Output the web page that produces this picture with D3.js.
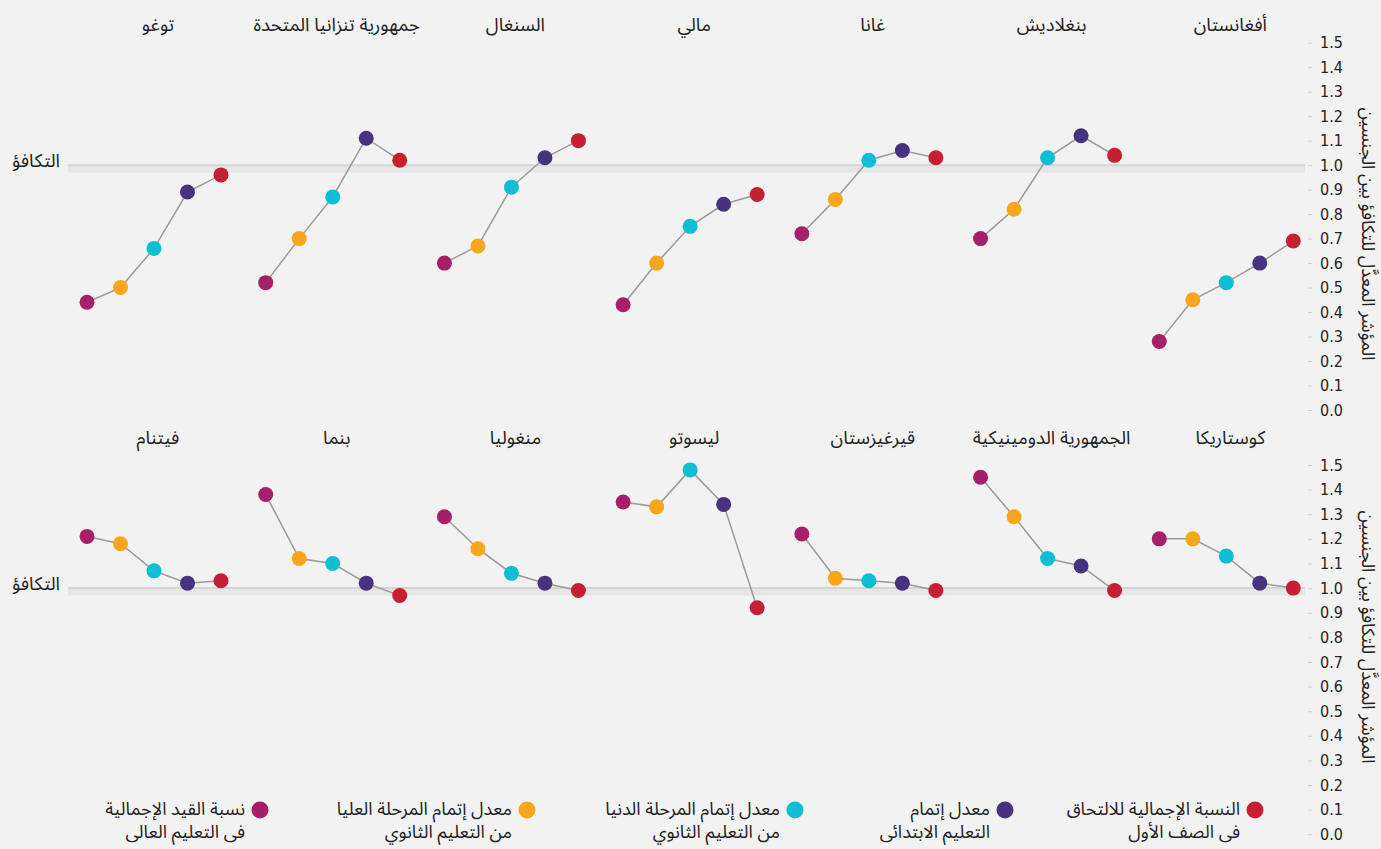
<!DOCTYPE html>
<html>
<head>
<meta charset="utf-8">
<script src="https://cdn.jsdelivr.net/npm/d3@7"></script>
<style>
  body { margin: 0; background: #f2f2f2; }
  svg { display: block; }
  .ttl { font-family: "Noto Sans Arabic", "DejaVu Sans", sans-serif; font-size: 18.5px; fill: #222; }
  .leg { font-family: "Noto Sans Arabic", "DejaVu Sans", sans-serif; font-size: 18px; fill: #222; }
  .tick text { font-family: "Liberation Sans Narrow", "DejaVu Sans Condensed", sans-serif; font-size: 16px; fill: #222; }
</style>
</head>
<body>
<div id="chart"></div>
<script>
// countries, right to left, top row then bottom row
const topCountries = ["أفغانستان", "بنغلاديش", "غانا", "مالي", "السنغال", "جمهورية تنزانيا المتحدة", "توغو"];
const bottomCountries = ["كوستاريكا", "الجمهورية الدومينيكية", "قيرغيزستان", "ليسوتو", "منغوليا", "بنما", "فيتنام"];

// indicators, right to left (as drawn inside each panel)
const indicators = ["gir", "primary", "lowerSec", "upperSec", "tertiary"];
const indicatorColors = ["#c51f34", "#47327f", "#0dbed4", "#f8a61c", "#a51f69"];
const legendLine1 = ["النسبة الإجمالية للالتحاق", "معدل إتمام", "معدل إتمام المرحلة الدنيا", "معدل إتمام المرحلة العليا", "نسبة القيد الإجمالية"];
const legendLine2 = ["فى الصف الأول", "التعليم الابتدائى", "من التعليم الثانوي", "من التعليم الثانوي", "فى التعليم العالى"];

// adjusted gender parity index, same order as the countries
const topGir      = [0.69, 1.04, 1.03, 0.88, 1.10, 1.02, 0.96];
const topPrimary  = [0.60, 1.12, 1.06, 0.84, 1.03, 1.11, 0.89];
const topLower    = [0.52, 1.03, 1.02, 0.75, 0.91, 0.87, 0.66];
const topUpper    = [0.45, 0.82, 0.86, 0.60, 0.67, 0.70, 0.50];
const topTertiary = [0.28, 0.70, 0.72, 0.43, 0.60, 0.52, 0.44];

const bottomGir      = [1.00, 0.99, 0.99, 0.92, 0.99, 0.97, 1.03];
const bottomPrimary  = [1.02, 1.09, 1.02, 1.34, 1.02, 1.02, 1.02];
const bottomLower    = [1.13, 1.12, 1.03, 1.48, 1.06, 1.10, 1.07];
const bottomUpper    = [1.20, 1.29, 1.04, 1.33, 1.16, 1.12, 1.18];
const bottomTertiary = [1.20, 1.45, 1.22, 1.35, 1.29, 1.38, 1.21];

const yTicks = [0, 0.1, 0.2, 0.3, 0.4, 0.5, 0.6, 0.7, 0.8, 0.9, 1.0, 1.1, 1.2, 1.3, 1.4, 1.5];
const axisTitle = "المؤشر المعدَّل للتكافؤ بين الجنسين";
const parityLabel = "التكافؤ";

const WIDTH = 1381, HEIGHT = 849;
const PLOT = { left: 54, right: 1305 };
const ROWS = [
    { countries: topCountries, series: [topGir, topPrimary, topLower, topUpper, topTertiary], y0: 410, y1: 42.7, titleY: 31, axisTitleY: 234 },
    { countries: bottomCountries, series: [bottomGir, bottomPrimary, bottomLower, bottomUpper, bottomTertiary], y0: 834.3, y1: 465, titleY: 444, axisTitleY: 637 }
];
const LEGEND_RIGHT = [1240, 990, 780, 512, 245];
const LEGEND_Y = 810;

const svg = d3.select("#chart").append("svg")
    .attr("width", WIDTH)
    .attr("height", HEIGHT);

svg.append("rect").attr("width", WIDTH).attr("height", HEIGHT).attr("fill", "#f2f2f2");

const xPanel = d3.scaleBand()
    .domain(d3.range(7))
    .range([PLOT.right, PLOT.left]);

// left to right inside a panel: tertiary ... gir
const xInner = d3.scalePoint()
    .domain(indicators.slice().reverse())
    .range([33, 167]);

const line = d3.line().x(d => d.x).y(d => d.y);

ROWS.forEach(row => {
    const y = d3.scaleLinear().domain([0, 1.5]).range([row.y0, row.y1]);
    const g = svg.append("g");

    // parity band and line
    g.append("rect")
        .attr("x", 68)
        .attr("width", PLOT.right - 68)
        .attr("y", y(1.0))
        .attr("height", y(0.97) - y(1.0))
        .attr("fill", "#e6e6e6");
    g.append("line")
        .attr("x1", 68).attr("x2", PLOT.right)
        .attr("y1", y(1.0)).attr("y2", y(1.0))
        .attr("stroke", "#d5d5d5")
        .attr("stroke-width", 2);
    g.append("text")
        .attr("class", "ttl")
        .attr("x", 60)
        .attr("y", y(1.0) + 2)
        .attr("text-anchor", "end")
        .text(parityLabel);

    // y axis on the right
    const axis = g.append("g")
        .attr("transform", "translate(" + (PLOT.right + 3) + ",0)")
        .call(d3.axisRight(y).tickValues(yTicks).tickFormat(d3.format(".1f")).tickSize(4).tickPadding(8));
    axis.select(".domain").remove();
    axis.selectAll(".tick line").attr("stroke", "#cfcfcf");

    g.append("text")
        .attr("class", "ttl")
        .attr("transform", "translate(1362," + row.axisTitleY + ") rotate(90)")
        .attr("text-anchor", "middle")
        .style("font-size", "18px")
        .text(axisTitle);

    row.countries.forEach((name, i) => {
        const x0 = xPanel(i);
        const pts = indicators.map((key, k) => ({
            x: x0 + xInner(key),
            y: y(row.series[k][i]),
            color: indicatorColors[k]
        }));

        g.append("text")
            .attr("class", "ttl")
            .attr("x", x0 + (xInner.range()[0] + xInner.range()[1]) / 2 + 4)
            .attr("y", row.titleY)
            .attr("text-anchor", "middle")
            .text(name);

        g.append("path")
            .attr("d", line(pts))
            .attr("fill", "none")
            .attr("stroke", "#9a9a9a")
            .attr("stroke-width", 1.5);

        g.selectAll(null)
            .data(pts)
            .enter()
            .append("circle")
            .attr("cx", d => d.x)
            .attr("cy", d => d.y)
            .attr("r", 7.5)
            .attr("fill", d => d.color);
    });
});

// legend
const legend = svg.append("g");
indicators.forEach((key, k) => {
    const item = legend.append("g").attr("transform", "translate(" + LEGEND_RIGHT[k] + "," + LEGEND_Y + ")");
    item.append("circle")
        .attr("cx", 15)
        .attr("cy", 0)
        .attr("r", 8.5)
        .attr("fill", indicatorColors[k]);
    item.append("text")
        .attr("class", "leg")
        .attr("x", 0)
        .attr("y", 5)
        .attr("text-anchor", "end")
        .text(legendLine1[k]);
    item.append("text")
        .attr("class", "leg")
        .attr("x", 0)
        .attr("y", 28)
        .attr("text-anchor", "end")
        .text(legendLine2[k]);
});
</script>
</body>
</html>
